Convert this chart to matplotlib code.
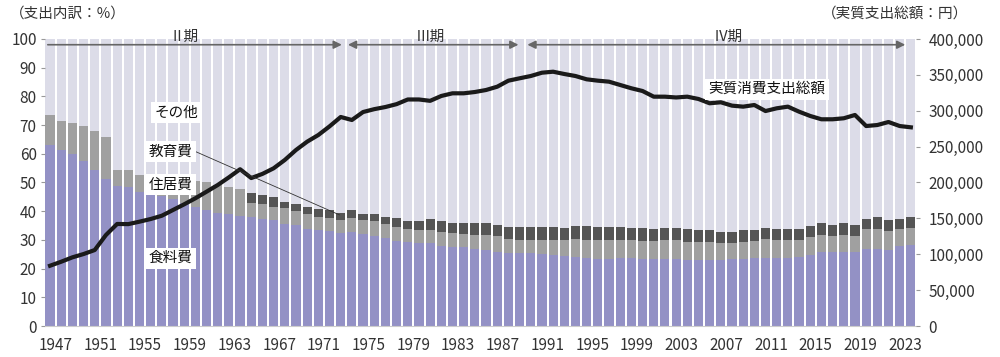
import matplotlib
matplotlib.use("Agg")
import matplotlib.pyplot as plt
from matplotlib.ticker import FuncFormatter, MultipleLocator
import numpy as np

plt.rcParams['font.family'] = ['Noto Sans CJK JP', 'DejaVu Sans']

years = list(range(1947, 2025))

# cumulative tops (percent)
total_top = [73.6, 71.6, 70.9, 69.8, 67.8, 65.7, 54.2, 54.2, 52.5, 51.8,
             51.3, 51.0, 50.8, 50.6, 50.2, 49.0, 48.6, 47.7, 46.5, 45.7,
             45.1, 43.3, 42.6, 41.6, 40.7, 40.4, 39.5, 40.4, 39.0, 38.9,
             38.1, 37.8, 36.6, 36.6, 37.3, 36.5, 36.0, 35.9, 35.8, 35.8,
             35.3, 34.6, 34.6, 34.6, 34.6, 34.6, 34.3, 35.0, 35.0, 34.6,
             34.6, 34.6, 34.3, 34.3, 33.8, 34.3, 34.3, 33.9, 33.4, 33.5,
             32.9, 32.9, 33.5, 33.5, 34.3, 33.8, 33.8, 33.8, 34.9, 35.8,
             35.2, 35.8, 35.2, 37.3, 37.9, 36.8, 37.3, 37.9]
housing_top = [73.6, 71.6, 70.9, 69.8, 67.8, 65.7, 54.2, 54.2, 52.5, 51.8,
               51.3, 51.0, 50.8, 50.6, 50.2, 49.0, 48.6, 47.7, 43.0, 42.4,
               41.6, 41.0, 40.2, 38.9, 38.1, 37.8, 37.1, 37.6, 36.9, 36.6,
               35.5, 34.6, 33.9, 33.5, 33.6, 32.9, 32.4, 31.9, 31.7, 31.7,
               31.4, 30.4, 30.0, 30.0, 30.0, 30.0, 30.0, 30.4, 30.0, 30.0,
               30.0, 30.0, 30.0, 29.6, 29.6, 30.0, 30.0, 29.4, 29.4, 29.4,
               29.0, 29.0, 29.4, 29.7, 30.3, 30.0, 30.0, 30.0, 31.1, 31.7,
               31.4, 31.6, 31.4, 33.7, 33.8, 33.1, 33.7, 34.3]
food = [63.1, 61.2, 60.0, 57.5, 54.4, 51.3, 48.8, 48.4, 46.8, 45.8,
        45.2, 44.4, 43.0, 41.5, 40.4, 39.5, 38.9, 38.4, 38.1, 37.4,
        37.0, 35.6, 35.1, 33.7, 33.5, 33.0, 32.3, 32.6, 31.9, 31.3,
        30.6, 29.7, 29.2, 29.0, 28.9, 27.8, 27.6, 27.4, 26.9, 26.6,
        25.9, 25.3, 25.3, 25.3, 25.0, 24.8, 24.4, 24.0, 23.6, 23.5,
        23.5, 23.6, 23.6, 23.4, 23.3, 23.3, 23.3, 23.0, 23.0, 23.0,
        23.0, 23.2, 23.4, 23.6, 23.6, 23.6, 23.6, 23.9, 24.9, 25.9,
        25.9, 25.9, 25.9, 27.0, 26.8, 26.5, 27.8, 28.1]
housing = [h - f for h, f in zip(housing_top, food)]
education = [t - h for t, h in zip(total_top, housing_top)]
other = [100 - t for t in total_top]

real_spending = [84000, 89600, 95700, 100300, 105900, 126800, 142200, 142000, 145400, 149100,
                 153700, 161700, 169600, 178000, 187200, 196500, 207200, 218500, 206200, 212000,
                 219800, 231400, 245300, 256900, 266200, 278200, 291300, 287100, 298200, 302200,
                 305200, 309200, 315700, 315700, 313800, 320600, 324300, 324300, 326100, 328900,
                 333500, 341900, 345200, 348400, 353000, 354400, 351200, 348400, 343800, 341900,
                 340500, 335900, 331300, 327500, 319600, 319600, 318500, 319600, 316400, 310400,
                 311800, 307100, 305700, 308000, 299600, 303400, 305700, 298700, 292700, 288100,
                 288100, 289500, 294100, 278700, 280100, 284300, 278700, 276900]

tick_years = years[::4][:20]

c_food = '#9391c5'
c_house = '#a0a0a0'
c_edu = '#555555'
c_other = '#dcdce8'
txt = '#333333'

fig = plt.figure(figsize=(10, 3.57), dpi=100)
ax = fig.add_axes([0.045, 0.0868, 0.871, 0.804])
x = np.arange(len(years))
w = 0.82
ax.bar(x, food, w, color=c_food, linewidth=0)
ax.bar(x, housing, w, bottom=food, color=c_house, linewidth=0)
ax.bar(x, education, w, bottom=housing_top, color=c_edu, linewidth=0)
ax.bar(x, other, w, bottom=total_top, color=c_other, linewidth=0)

ax.set_xlim(-0.45, 77.46)
ax.set_ylim(0, 100)
ax.yaxis.set_major_locator(MultipleLocator(10))
ax.set_xticks([years.index(y) + 0.5 for y in tick_years])
ax.set_xticklabels([str(y) for y in tick_years])
for s in ['top', 'right', 'left']:
    ax.spines[s].set_visible(False)
ax.spines['bottom'].set_color('#cccccc')
ax.tick_params(axis='y', labelsize=11, colors='#999999', labelcolor=txt, length=3, pad=3)
ax.tick_params(axis='x', labelsize=11, length=0, labelcolor=txt, pad=8)

ax2 = ax.twinx()
ax2.plot(x, real_spending, color='#1a1a1a', linewidth=3.0, solid_joinstyle='round')
ax2.set_ylim(0, 400000)
ax2.yaxis.set_major_locator(MultipleLocator(50000))
ax2.yaxis.set_major_formatter(FuncFormatter(lambda v, p: f'{int(v):,}'))
for s in ['top', 'right', 'left', 'bottom']:
    ax2.spines[s].set_visible(False)
ax2.tick_params(axis='y', labelsize=11, colors='#999999', labelcolor=txt, length=3, pad=6)

# period arrows
acol = '#666666'
ax.annotate('', xy=(26.1, 98), xytext=(-0.2, 98),
            arrowprops=dict(arrowstyle='-|>', color=acol, lw=1.2, mutation_scale=12, shrinkA=0, shrinkB=0))
ax.annotate('', xy=(41.9, 98), xytext=(26.65, 98),
            arrowprops=dict(arrowstyle='<|-|>', color=acol, lw=1.2, mutation_scale=12, shrinkA=0, shrinkB=0))
ax.annotate('', xy=(76.5, 98), xytext=(42.7, 98),
            arrowprops=dict(arrowstyle='<|-|>', color=acol, lw=1.2, mutation_scale=12, shrinkA=0, shrinkB=0))
for px, lab in [(12.0, 'Ⅱ期'), (34.0, 'Ⅲ期'), (60.7, 'Ⅳ期')]:
    ax.text(px, 100.9, lab, ha='center', va='center', fontsize=10.5, color=txt)

box = dict(facecolor='white', edgecolor='none', pad=2.5)
ax2.text(11.3, 74.3 * 4000, 'その他', ha='center', va='center', fontsize=10.5, color='#111111', bbox=box)
ax2.text(10.8, 60.7 * 4000, '教育費', ha='center', va='center', fontsize=10.5, color='#111111', bbox=box)
ax2.text(10.8, 49.2 * 4000, '住居費', ha='center', va='center', fontsize=10.5, color='#111111', bbox=box)
ax2.text(10.8, 23.6 * 4000, '食料費', ha='center', va='center', fontsize=10.5, color='#111111', bbox=box)
ax2.text(64.1, 82.5 * 4000, '実質消費支出総額', ha='center', va='center', fontsize=10.5, color='#111111', bbox=box)
ax2.plot([13.0, 25.9], [60.8 * 4000, 38.7 * 4000], color='#333333', lw=0.6)

fig.text(0.010, 0.961, '（支出内訳：%）', ha='left', va='center', fontsize=10.5, color=txt)
fig.text(0.968, 0.961, '（実質支出総額：円）', ha='right', va='center', fontsize=10.5, color=txt)

fig.savefig('out.png', dpi=100)
